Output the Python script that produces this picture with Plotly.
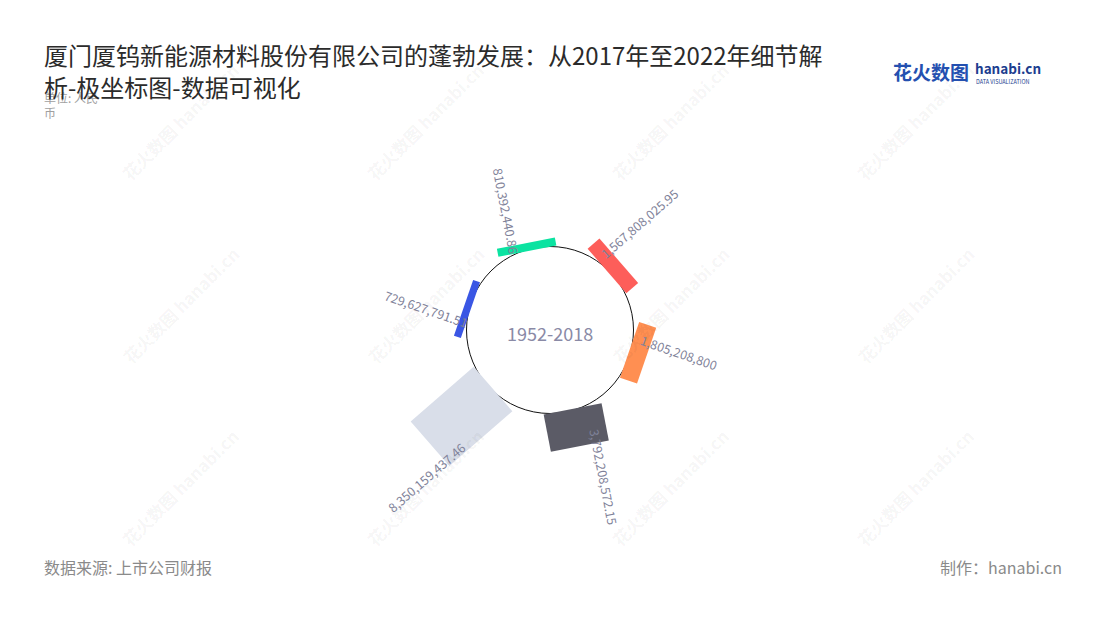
import math
import plotly.graph_objects as go

# ---------------- data ----------------
years = ["2017", "2018", "2019", "2020", "2021", "2022"]
revenue = [729627791.51, 810392440.86, 1567808025.95, 1805208800.00, 3792208572.15, 8350159437.46]
bar_colors = ["#3a56e4", "#0be3a1", "#fd5e5a", "#ff8f52", "#5b5b66", "#d9dee9"]
center_label = "1952-2018"
title_lines = ["厦门厦钨新能源材料股份有限公司的蓬勃发展：从2017年至2022年细节解", "析-极坐标图-数据可视化"]
unit_lines = ["单位: 人民", "币"]
source_text = "数据来源: 上市公司财报"
credit_text = "制作：hanabi.cn"

# ---------------- geometry / style ----------------
UNIT = 1e8          # axis unit (亿元)
HOLE_R = 83.5       # radius of the centre circle (axis units)
R0 = 82             # inner edge of bars
HALF_LEN = 29.5     # half tangential length of bars
TILT = -5           # degrees
START = 166         # angle of first category
STEP = -60          # clockwise spacing
FONT = "Noto Sans CJK SC"
PAGE_PAD = 8        # default page body margin
W, H = 1100 - 2 * PAGE_PAD, 620 - 2 * PAGE_PAD
CX, CY = 550 - PAGE_PAD, 330 - PAGE_PAD   # centre of the chart inside the figure


def rot(vx, vy, deg):
    a = math.radians(deg)
    return vx * math.cos(a) - vy * math.sin(a), vx * math.sin(a) + vy * math.cos(a)


def fmt(v):
    s = f"{v:,.2f}"
    return s[:-3] if s.endswith(".00") else s


fig = go.Figure()
annotations = []


def pa(text, px, py, size, color, xanchor="left", bold=False, angle=0):
    annotations.append(dict(
        x=(px - PAGE_PAD) / W, y=1 - (py - PAGE_PAD) / H, xref="paper", yref="paper",
        showarrow=False, text=f"<b>{text}</b>" if bold else text, textangle=angle,
        font=dict(family=FONT, size=size, color=color),
        xanchor=xanchor, yanchor="middle"))


# watermarks
for wx in [180, 425, 670, 915]:
    for wy in [122, 305, 488]:
        pa("花火数图 hanabi.cn", wx, wy, 17, "rgba(0,0,0,0.05)", xanchor="center",
           bold=True, angle=-45)

for i, (yr, v, c) in enumerate(zip(years, revenue, bar_colors)):
    th = START + STEP * i
    t = v / UNIT
    ux, uy = math.cos(math.radians(th)), math.sin(math.radians(th))
    wx_, wy_ = -uy, ux
    ux2, uy2 = rot(ux, uy, TILT)
    wx2, wy2 = rot(wx_, wy_, TILT)
    mx, my = R0 * ux, R0 * uy
    pts = [
        (mx - HALF_LEN * wx2, my - HALF_LEN * wy2),
        (mx + HALF_LEN * wx2, my + HALF_LEN * wy2),
        (mx + HALF_LEN * wx2 + t * ux2, my + HALF_LEN * wy2 + t * uy2),
        (mx - HALF_LEN * wx2 + t * ux2, my - HALF_LEN * wy2 + t * uy2),
    ]
    pts.append(pts[0])
    fig.add_trace(go.Scatter(
        x=[p[0] for p in pts], y=[p[1] for p in pts], mode="lines",
        fill="toself", fillcolor=c, line=dict(width=0, color=c),
        name=yr, hoverinfo="text", text=f"{yr}: {fmt(v)}", showlegend=False))

    # value label, rotated along the bar direction
    lab = fmt(v)
    rc = R0 - 4 + 0.8 * t + 3.0 * len(lab)
    la = math.radians(th + 4)
    ang = -(th + TILT)
    while ang > 180:
        ang -= 360
    while ang <= -180:
        ang += 360
    if ang > 90:
        ang -= 180
    elif ang < -90:
        ang += 180
    annotations.append(dict(
        x=rc * math.cos(la), y=rc * math.sin(la), xref="x", yref="y",
        text=lab, showarrow=False, textangle=ang,
        font=dict(family=FONT, size=12.5, color="#7f8299"),
        xanchor="center", yanchor="middle"))

fig.add_shape(type="circle", xref="x", yref="y",
              x0=-HOLE_R, y0=-HOLE_R, x1=HOLE_R, y1=HOLE_R,
              fillcolor="white", line=dict(color="#111", width=1), layer="below")

annotations.append(dict(x=0, y=-3, xref="x", yref="y", text=center_label, showarrow=False,
                        font=dict(family=FONT, size=18, color="#8a8aa6"),
                        xanchor="center", yanchor="middle"))

pa(unit_lines[0], 42, 97, 12, "#a0a0a0")
pa(unit_lines[1], 42, 113, 12, "#a0a0a0")
pa(title_lines[0], 42, 54, 24, "#2b2b2b")
pa(title_lines[1], 42, 86, 24, "#2b2b2b")
pa(source_text, 42, 567, 16, "#8a8a8a")
pa(credit_text, 1064, 567, 16, "#8a8a8a", xanchor="right")
pa("花火数图", 891, 72, 19, "#2450b0", bold=True)
pa("hanabi.cn", 973, 68, 13.5, "#1c3d8f", bold=True)
pa("DATA VISUALIZATION", 974, 82, 5.5, "#1c3d8f")

fig.update_layout(
    width=W, height=H,
    margin=dict(l=0, r=0, t=0, b=0),
    paper_bgcolor="white", plot_bgcolor="white",
    xaxis=dict(range=[-CX, W - CX], visible=False, fixedrange=True),
    yaxis=dict(range=[-(H - CY), CY], visible=False, fixedrange=True),
    annotations=annotations,
    showlegend=False,
)

fig.write_html("out.html")
